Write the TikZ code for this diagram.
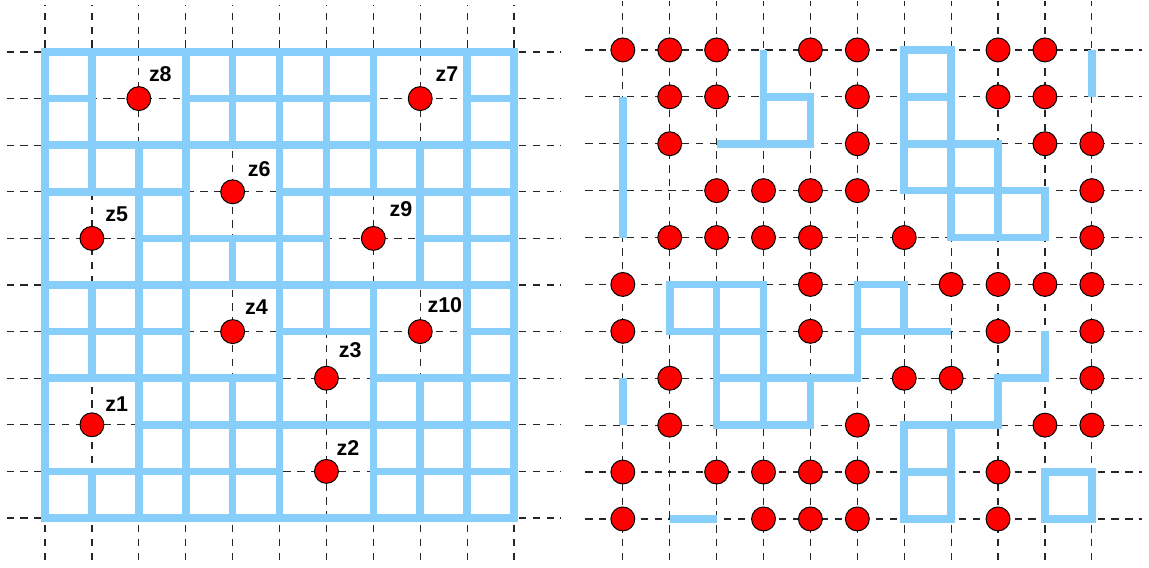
\documentclass[tikz,border=0pt]{standalone}
\usepackage{fontspec}
\setmainfont{Liberation Sans}
\usetikzlibrary{positioning}
\definecolor{wallblue}{RGB}{135,206,250}

\begin{document}
\begin{tikzpicture}[
  guide/.style={draw=black!85, line width=0.7pt, dash pattern=on 4.4pt off 4pt},
  wall/.style={draw=wallblue, line width=4.6pt},
  reddot/.style={circle, draw=black, line width=0.6pt, fill=red, minimum size=5.1mm, inner sep=0pt},
  zlab/.style={inner sep=0pt, font=\fontsize{13}{15}\selectfont\bfseries}]
\useasboundingbox (-0.96,-1.066) rectangle (23.539,11.045);
% left panel: full grid, walls removed round each z point
\begin{scope}[yscale=0.9936]
\foreach \i in {0,...,10} {
  \draw[guide] (\i,-0.9) -- (\i,11.0);
  \draw[guide] (-0.82,\i) -- (11.0,\i);
}
\draw[wall] (0,0) rectangle (10,10);
\foreach \y/\a/\b in {9/0/1, 9/3/7, 9/9/10, 8/0/10, 7/0/3, 7/5/10, 6/2/6, 6/8/10,
    5/0/10, 4/0/3, 4/5/7, 4/9/10, 3/0/5, 3/7/10, 2/2/10, 1/0/5, 1/7/10}
  \draw[wall] (\a,\y) -- (\b,\y);
\foreach \x/\a/\b in {1/7/10, 1/3/5, 1/0/1, 2/0/8, 3/0/10, 4/8/10, 4/5/6, 4/0/3,
    5/0/10, 6/4/10, 7/7/10, 7/0/5, 8/5/8, 8/0/3, 9/0/10}
  \draw[wall] (\x,\a) -- (\x,\b);

\node[reddot] (z1) at (1,2) {};
\node[zlab, above right=0.28cm and 0.28cm of z1.center] (t1) {z1};
\node[reddot] (z2) at (6,1) {};
\node[zlab, above right=0.34cm and 0.21cm of z2.center] (t2) {z2};
\node[reddot] (z3) at (6,3) {};
\node[zlab, above right=0.43cm and 0.26cm of z3.center] (t3) {z3};
\node[reddot] (z4) at (4,4) {};
\node[zlab, above right=0.36cm and 0.26cm of z4.center] (t4) {z4};
\node[reddot] (z5) at (1,6) {};
\node[zlab, above right=0.34cm and 0.28cm of z5.center] (t5) {z5};
\node[reddot] (z6) at (4,7) {};
\node[zlab, above right=0.32cm and 0.32cm of z6.center] (t6) {z6};
\node[reddot] (z7) at (8,9) {};
\node[zlab, above right=0.36cm and 0.32cm of z7.center] (t7) {z7};
\node[reddot] (z8) at (2,9) {};
\node[zlab, above right=0.36cm and 0.21cm of z8.center] (t8) {z8};
\node[reddot] (z9) at (7,6) {};
\node[zlab, above right=0.45cm and 0.34cm of z9.center] (t9) {z9};
\node[reddot] (z10) at (8,4) {};
\node[zlab, above right=0.40cm and 0.15cm of z10.center] (t10) {z10};
\end{scope}

% right panel: dots and the walls left over
\begin{scope}[xshift=12.32cm, yshift=-0.02cm]
\foreach \i in {0,...,10} {
  \draw[guide] (\i,-0.88) -- (\i,11.05);
  \draw[guide] (-0.8,\i) -- (11.07,\i);
}
\draw[wall] (3,10) -- (3,8);
\draw[wall] (3,9) -- (4,9) -- (4,8) -- (2,8);
\draw[wall] (6,7) -- (6,10) -- (7,10) -- (7,6) -- (9,6) -- (9,7) -- cycle;
\draw[wall] (6,9) -- (7,9);
\draw[wall] (6,8) -- (8,8) -- (8,6);
\draw[wall] (10,10) -- (10,9);
\draw[wall] (0,9) -- (0,6);
\draw[wall] (3,4) -- (1,4) -- (1,5) -- (3,5) -- (3,2);
\draw[wall] (2,5) -- (2,2) -- (4,2) -- (4,3);
\draw[wall] (2,3) -- (5,3) -- (5,5) -- (6,5) -- (6,4);
\draw[wall] (5,4) -- (7,4);
\draw[wall] (9,4) -- (9,3) -- (8,3) -- (8,2) -- (6,2) -- (6,0) -- (7,0) -- (7,2);
\draw[wall] (6,1) -- (7,1);
\draw[wall] (9,0) rectangle (10,1);
\draw[wall] (0,3) -- (0,2);
\draw[wall] (1,0) -- (2,0);
\foreach \y/\xs in {10/{0,1,2,4,5,8,9}, 9/{1,2,5,8,9}, 8/{1,5,9,10}, 7/{2,3,4,5,10},
    6/{1,2,3,4,6,10}, 5/{0,4,7,8,9,10}, 4/{0,4,8,10}, 3/{1,6,7,10},
    2/{1,5,9,10}, 1/{0,2,3,4,5,8}, 0/{0,3,4,5,8}}
  \foreach \x in \xs
    \node[reddot] (d\x-\y) at (\x,\y) {};
\end{scope}
\end{tikzpicture}
\end{document}
